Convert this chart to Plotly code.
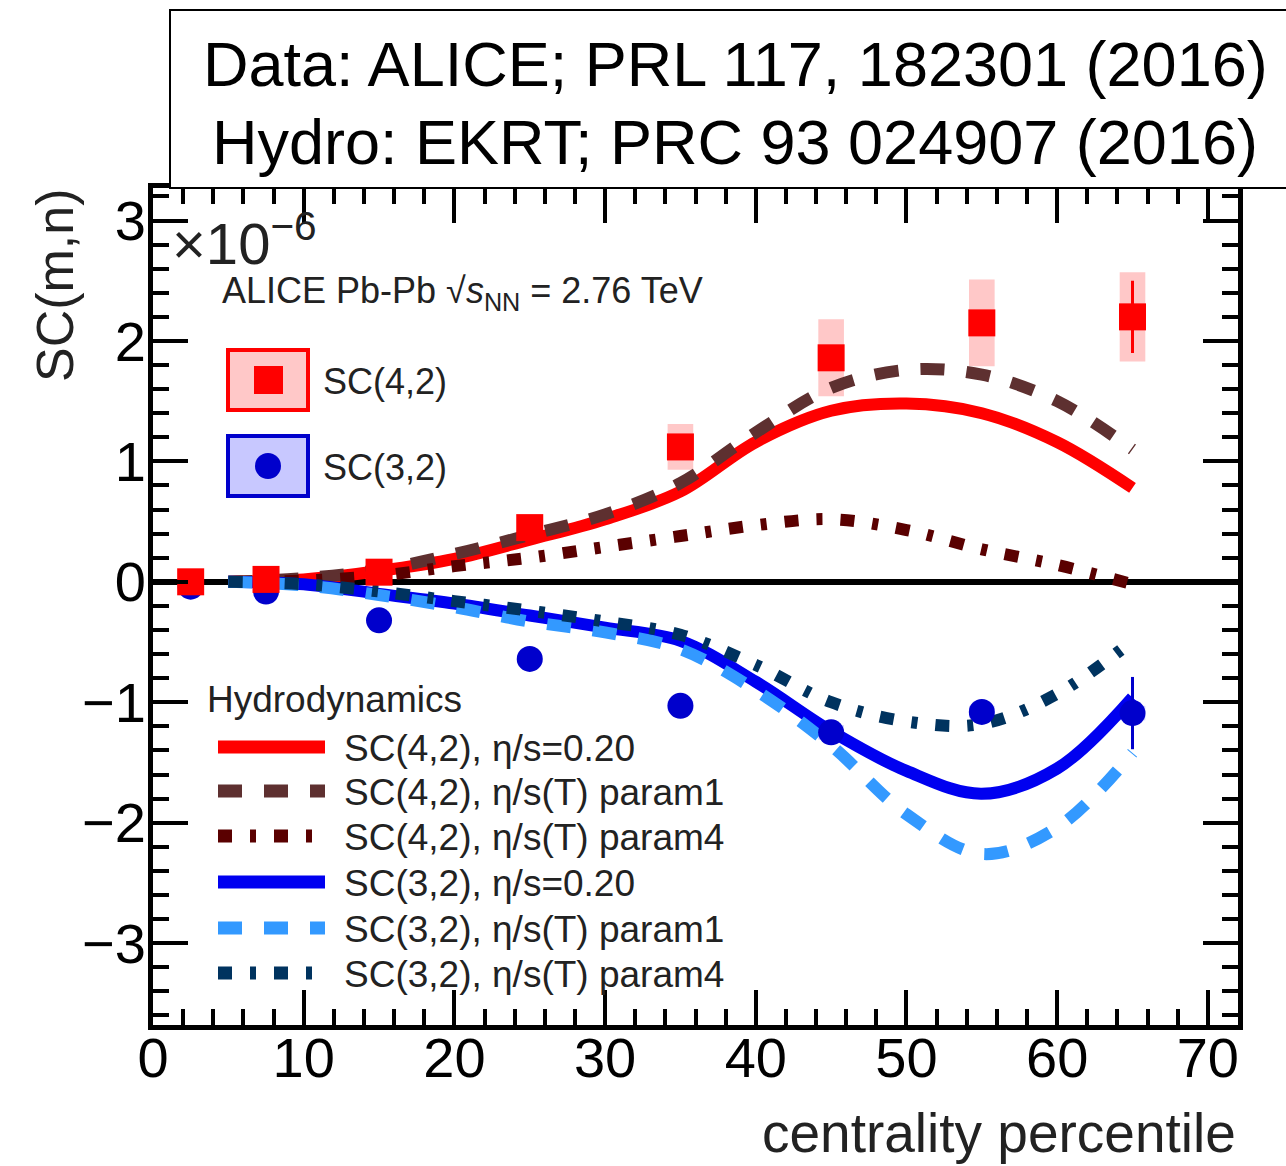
import plotly.graph_objects as go

# ---------------- data ----------------
cent = [2.5, 7.5, 15, 25, 35, 45, 55, 65]
sc42 = [0.0, 0.02, 0.08, 0.45, 1.12, 1.86, 2.15, 2.20]
sc42_stat = [0.01, 0.01, 0.02, 0.03, 0.05, 0.08, 0.10, 0.30]
sc42_sys = [0.02, 0.02, 0.03, 0.07, 0.19, 0.32, 0.36, 0.37]
sc32 = [-0.04, -0.08, -0.32, -0.64, -1.03, -1.25, -1.08, -1.09]
sc32_stat = [0.01, 0.01, 0.02, 0.03, 0.04, 0.05, 0.08, 0.30]
sc32_sys = [0.01, 0.01, 0.02, 0.03, 0.04, 0.06, 0.05, 0.06]

hx = [5, 10, 15, 20, 25, 30, 35, 40, 45, 50, 55, 60, 65]
h42_visc = [0.0, 0.02, 0.09, 0.19, 0.35, 0.52, 0.75, 1.16, 1.42, 1.48, 1.40, 1.16, 0.78]
h42_p1 = [0.0, 0.03, 0.10, 0.23, 0.39, 0.56, 0.82, 1.24, 1.61, 1.76, 1.72, 1.50, 1.10]
h42_p4 = [0.0, 0.01, 0.05, 0.13, 0.20, 0.29, 0.38, 0.47, 0.52, 0.43, 0.27, 0.14, -0.02]
h32_visc = [0.0, -0.02, -0.10, -0.18, -0.28, -0.38, -0.49, -0.83, -1.24, -1.57, -1.76, -1.55, -0.96]
h32_p1 = [0.0, -0.03, -0.11, -0.21, -0.33, -0.42, -0.56, -0.90, -1.36, -1.93, -2.26, -2.04, -1.42]
h32_p4 = [0.0, -0.02, -0.08, -0.16, -0.24, -0.33, -0.44, -0.69, -1.00, -1.16, -1.18, -0.93, -0.49]

hydro_names = ["SC(4,2), η/s=0.20", "SC(4,2), η/s(T) param1", "SC(4,2), η/s(T) param4",
               "SC(3,2), η/s=0.20", "SC(3,2), η/s(T) param1", "SC(3,2), η/s(T) param4"]
hydro_vals = [h42_visc, h42_p1, h42_p4, h32_visc, h32_p1, h32_p4]
hydro_colors = ["#ff0000", "#5e3030", "#5a0000", "#0000f0", "#3399ff", "#00335f"]
DASHED = "24px,22px"
DOTTED = "14px,18px,6px,18px"
hydro_dash = ["solid", DASHED, DOTTED, "solid", DASHED, DOTTED]

x_ticks = [0, 10, 20, 30, 40, 50, 60, 70]
y_ticks = [-3, -2, -1, 0, 1, 2, 3]

# ---------------- geometry helpers (pixel -> paper) ----------------
W, H = 1286, 1166
L, R, T, B = 153, 1238, 188, 1025


def px(x):
    return (x - L) / (R - L)


def py(y):
    return (B - y) / (B - T)


FONT = "Liberation Sans, Arial, sans-serif"
TICKFONT = "Liberation Sans, Arial, sans-serif"

fig = go.Figure()

# systematic boxes
fig.add_trace(go.Bar(x=cent, y=[2 * s for s in sc42_sys], base=[v - s for v, s in zip(sc42, sc42_sys)],
                     width=1.7, marker=dict(color="#ffc8c8", line=dict(width=0)), showlegend=False,
                     hoverinfo="skip"))
fig.add_trace(go.Bar(x=cent, y=[2 * s for s in sc32_sys], base=[v - s for v, s in zip(sc32, sc32_sys)],
                     width=1.7, marker=dict(color="#d2d2ff", line=dict(width=0)), showlegend=False,
                     hoverinfo="skip"))

# hydro curves
for name, vals, col, dash in zip(hydro_names, hydro_vals, hydro_colors, hydro_dash):
    fig.add_trace(go.Scatter(x=hx, y=vals, mode="lines", name=name,
                             line=dict(color=col, width=12, dash=dash, shape="spline", smoothing=1.0),
                             showlegend=False))

# data points
fig.add_trace(go.Scatter(x=cent, y=sc32, mode="markers", name="SC(3,2)",
                         marker=dict(symbol="circle", size=26, color="#0000cc"),
                         error_y=dict(type="data", array=sc32_stat, color="#0000cc", thickness=3, width=0),
                         showlegend=False))
fig.add_trace(go.Scatter(x=cent, y=sc42, mode="markers", name="SC(4,2)",
                         marker=dict(symbol="square", size=27, color="#ff0000"),
                         error_y=dict(type="data", array=sc42_stat, color="#ff0000", thickness=3, width=0),
                         showlegend=False))

shapes = []
annotations = []

# top reference box
shapes.append(dict(type="rect", xref="paper", yref="paper", x0=px(170), x1=px(1300), y0=py(188), y1=py(10),
                   line=dict(color="black", width=2), fillcolor="white", layer="above"))
annotations.append(dict(xref="paper", yref="paper", x=px(735), y=py(64), text="Data: ALICE; PRL 117, 182301 (2016)",
                        showarrow=False, xanchor="center", yanchor="middle",
                        font=dict(family=FONT, size=63, color="black")))
annotations.append(dict(xref="paper", yref="paper", x=px(735), y=py(142), text="Hydro: EKRT; PRC 93 024907 (2016)",
                        showarrow=False, xanchor="center", yanchor="middle",
                        font=dict(family=FONT, size=63, color="black")))

# x10^-6 and ALICE label
annotations.append(dict(xref="paper", yref="paper", x=px(170), y=py(240), text="×10<sup>−6</sup>",
                        showarrow=False, xanchor="left", yanchor="middle",
                        font=dict(family=FONT, size=58, color="#222222")))
annotations.append(dict(xref="paper", yref="paper", x=px(220), y=py(293),
                        text="ALICE Pb-Pb √<i>s</i><sub>NN</sub> = 2.76 TeV",
                        showarrow=False, xanchor="left", yanchor="middle",
                        font=dict(family=FONT, size=36, color="#222222")))

# data legend (manual)
shapes.append(dict(type="rect", xref="paper", yref="paper", x0=px(228), x1=px(308), y0=py(410), y1=py(350),
                   line=dict(color="#ff0000", width=4), fillcolor="#ffc8c8", layer="above"))
shapes.append(dict(type="rect", xref="paper", yref="paper", x0=px(254), x1=px(283), y0=py(394), y1=py(366),
                   line=dict(width=0), fillcolor="#ff0000", layer="above"))
shapes.append(dict(type="rect", xref="paper", yref="paper", x0=px(228), x1=px(308), y0=py(496), y1=py(436),
                   line=dict(color="#0000cc", width=4), fillcolor="#c8c8ff", layer="above"))
shapes.append(dict(type="circle", xref="paper", yref="paper", x0=px(255), x1=px(281), y0=py(479), y1=py(453),
                   line=dict(width=0), fillcolor="#0000cc", layer="above"))
annotations.append(dict(xref="paper", yref="paper", x=px(321), y=py(381), text="SC(4,2)",
                        showarrow=False, xanchor="left", yanchor="middle",
                        font=dict(family=FONT, size=36, color="#222222")))
annotations.append(dict(xref="paper", yref="paper", x=px(321), y=py(467), text="SC(3,2)",
                        showarrow=False, xanchor="left", yanchor="middle",
                        font=dict(family=FONT, size=36, color="#222222")))

# hydro legend (manual)
annotations.append(dict(xref="paper", yref="paper", x=px(205), y=py(699), text="Hydrodynamics",
                        showarrow=False, xanchor="left", yanchor="middle",
                        font=dict(family=FONT, size=37, color="#222222")))
row_y = [747, 791, 836, 882, 928, 973]
for yy, name, col, dash in zip(row_y, hydro_names, hydro_colors, hydro_dash):
    shapes.append(dict(type="line", xref="paper", yref="paper", x0=px(218), x1=px(325), y0=py(yy), y1=py(yy),
                       line=dict(color=col, width=13, dash=dash), layer="above"))
    annotations.append(dict(xref="paper", yref="paper", x=px(342), y=py(yy + 1), text=name,
                            showarrow=False, xanchor="left", yanchor="middle",
                            font=dict(family=FONT, size=37, color="#222222")))

# axis titles
annotations.append(dict(xref="paper", yref="paper", x=px(1238), y=py(1133), text="centrality percentile",
                        showarrow=False, xanchor="right", yanchor="middle",
                        font=dict(family=FONT, size=55, color="#222222")))
annotations.append(dict(xref="paper", yref="paper", x=px(55), y=py(285), text="SC(m,n)", textangle=-90,
                        showarrow=False, xanchor="center", yanchor="middle",
                        font=dict(family=FONT, size=52, color="#222222")))

fig.update_layout(
    width=W, height=H,
    margin=dict(l=L, r=W - R, t=T, b=H - B, pad=0),
    paper_bgcolor="white", plot_bgcolor="white",
    barmode="overlay",
    showlegend=False,
    shapes=shapes,
    annotations=annotations,
    xaxis=dict(range=[0, 72], tickvals=x_ticks, ticktext=[str(v) for v in x_ticks],
               showgrid=False, zeroline=False,
               showline=True, linecolor="black", linewidth=5, mirror="allticks",
               ticks="inside", ticklen=35, tickwidth=4, tickcolor="black",
               minor=dict(dtick=2, ticks="inside", ticklen=16, tickwidth=4, tickcolor="black", showgrid=False),
               tickfont=dict(family=TICKFONT, size=56, color="black"), ticklabelstandoff=-20),
    yaxis=dict(range=[-3.68, 3.27], tickvals=y_ticks, ticktext=[("−" + str(-v)) if v < 0 else str(v) for v in y_ticks],
               showgrid=False, zeroline=True, zerolinecolor="black", zerolinewidth=6,
               showline=True, linecolor="black", linewidth=5, mirror="allticks",
               ticks="inside", ticklen=35, tickwidth=4, tickcolor="black",
               minor=dict(dtick=0.2, tick0=0, ticks="inside", ticklen=16, tickwidth=4, tickcolor="black",
                          showgrid=False),
               tickfont=dict(family=TICKFONT, size=56, color="black"), ticklabelstandoff=-9),
)

fig.write_html("out.html")
